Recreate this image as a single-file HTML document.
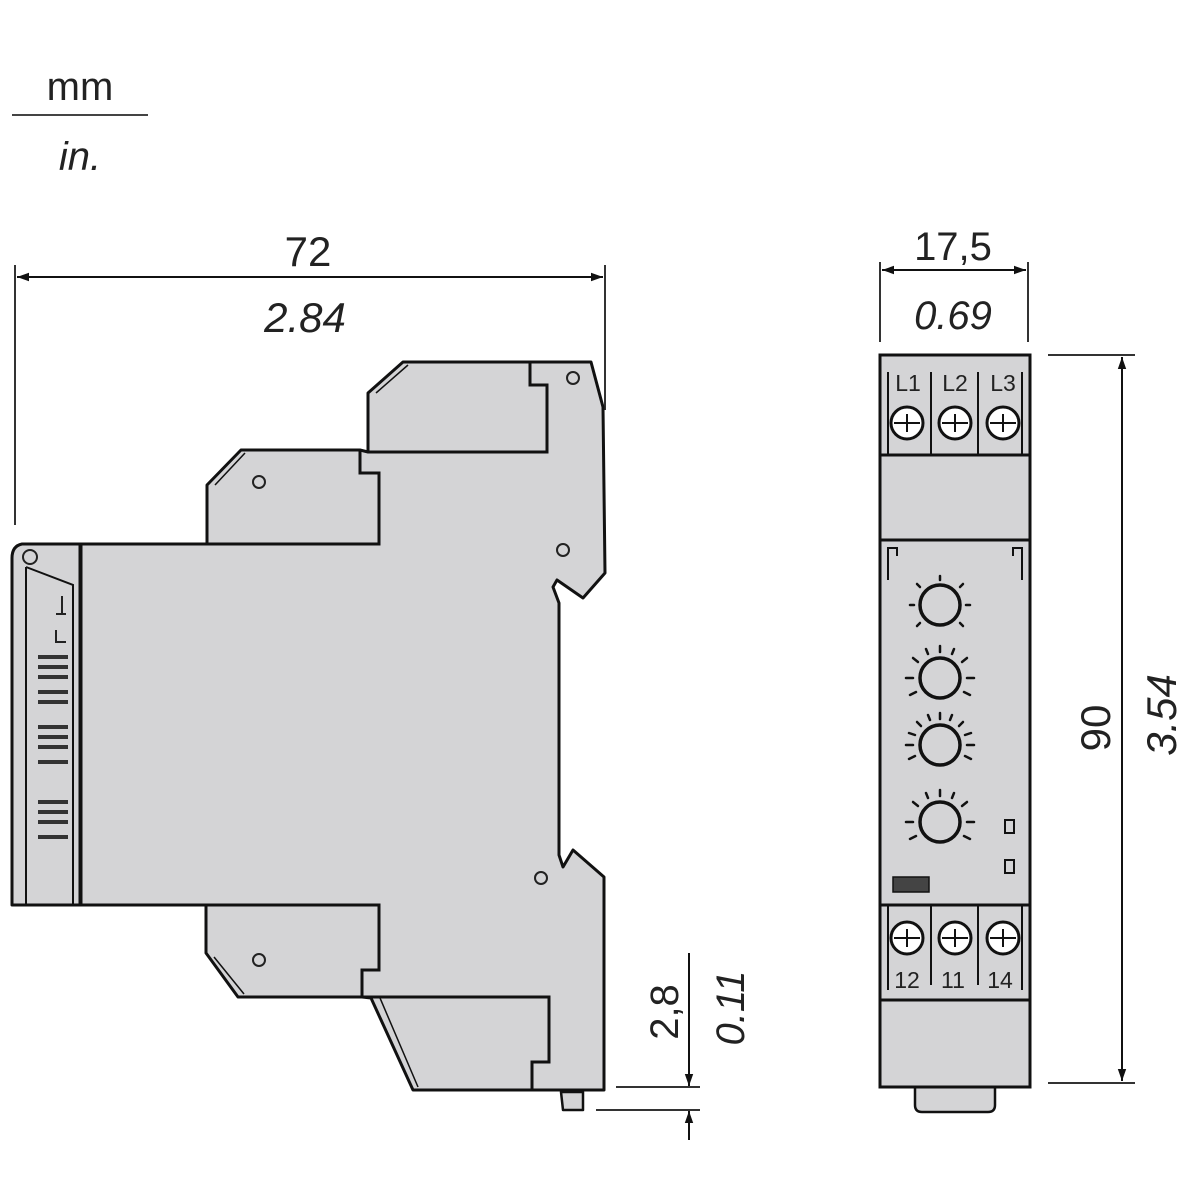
<!DOCTYPE html>
<html><head><meta charset="utf-8"><style>html,body{margin:0;padding:0;background:#fff}svg{display:block}text{font-family:"Liberation Sans",sans-serif;fill:#222}</style></head>
<body>
<svg width="1200" height="1200" viewBox="0 0 1200 1200" xmlns="http://www.w3.org/2000/svg">
<defs>
<marker id="a" viewBox="0 0 10 10" refX="10" refY="5" markerWidth="12" markerHeight="12" markerUnits="userSpaceOnUse" orient="auto-start-reverse"><path d="M0,1.5 L10,5 L0,8.5 z" fill="#111"/></marker>
</defs>
<text x="80" y="100" font-size="40" text-anchor="middle">mm</text>
<line x1="12" y1="115" x2="148" y2="115" stroke="#444" stroke-width="2"/>
<text x="80" y="170" font-size="40" font-style="italic" text-anchor="middle">in.</text>

<line x1="15" y1="265" x2="15" y2="525" stroke="#333" stroke-width="2"/>
<line x1="605" y1="265" x2="605" y2="410" stroke="#333" stroke-width="2"/>
<line x1="17" y1="277" x2="603" y2="277" stroke="#111" stroke-width="2" marker-start="url(#a)" marker-end="url(#a)"/>
<text x="308" y="266" font-size="42" text-anchor="middle">72</text>
<text x="305" y="332" font-size="42" font-style="italic" text-anchor="middle">2.84</text>

<g fill="#d4d4d6" stroke="#111" stroke-width="3" stroke-linejoin="round">
<path d="M80,544 L207,544 L207,485 L241,450 L360,450 L368,452 L368,393 L403,362 L591,362 L603,407 L605,573 L583,598 L557,580 L553,587 L559,603 L559,855 L563,867 L573,850 L604,877 L604,1090 L413,1090 L371,998 L362,997 L238,997 L206,953 L206,905 L80,905 Z"/>
<path d="M80,544 L22,544 Q12,546 12,558 L12,905 L80,905 Z"/>
<path d="M561,1092 L583,1092 L583,1110 L563,1110 Z" stroke-width="2.5"/>
</g>
<g fill="none" stroke="#111" stroke-width="3">
<path d="M360,450 L360,473 L379,473 L379,544 L207,544"/>
<path d="M206,905 L379,905 L379,970 L362,970 L362,997"/>
<path d="M530,362 L530,385 L547,385 L547,452 L368,452"/>
<path d="M362,997 L549,997 L549,1062 L532,1062 L532,1090"/>
<path d="M26,567 L73,585 L73,905" stroke-width="2"/>
<path d="M26,567 L26,905" stroke-width="2"/>
<line x1="81" y1="544" x2="81" y2="905" stroke-width="3"/>
<path d="M376,393 L408,365" stroke-width="1.5"/>
<path d="M215,485 L245,453" stroke-width="1.5"/>
<path d="M214,957 L244,994" stroke-width="1.5"/>
<path d="M380,998 L418,1087" stroke-width="1.5"/>
</g>
<g fill="none" stroke="#222" stroke-width="2">
<circle cx="30" cy="557" r="7"/>
<circle cx="573" cy="378" r="6"/><circle cx="563" cy="550" r="6"/><circle cx="259" cy="482" r="6"/>
<circle cx="541" cy="878" r="6"/><circle cx="259" cy="960" r="6"/>
<path d="M62,596 v18 M56,614 h10 M56,630 v12 h10"/>
</g>
<g fill="#333">
<rect x="38" y="655" width="30" height="4"/><rect x="38" y="665" width="30" height="4"/><rect x="38" y="675" width="30" height="4"/><rect x="38" y="690" width="30" height="4"/><rect x="38" y="700" width="30" height="4"/>
<rect x="38" y="725" width="30" height="4"/><rect x="38" y="735" width="30" height="4"/><rect x="38" y="745" width="30" height="4"/><rect x="38" y="760" width="30" height="4"/>
<rect x="38" y="800" width="30" height="4"/><rect x="38" y="810" width="30" height="4"/><rect x="38" y="820" width="30" height="4"/><rect x="38" y="835" width="30" height="4"/>
</g>

<line x1="616" y1="1087" x2="700" y2="1087" stroke="#333" stroke-width="2"/>
<line x1="596" y1="1110" x2="700" y2="1110" stroke="#333" stroke-width="2"/>
<line x1="689" y1="953" x2="689" y2="1086" stroke="#111" stroke-width="2" marker-end="url(#a)"/>
<line x1="689" y1="1140" x2="689" y2="1111" stroke="#111" stroke-width="2" marker-end="url(#a)"/>
<text transform="translate(678,1012) rotate(-90)" font-size="40" text-anchor="middle">2,8</text>
<text transform="translate(744,1008) rotate(-90)" font-size="40" font-style="italic" text-anchor="middle">0.11</text>

<line x1="880" y1="262" x2="880" y2="342" stroke="#333" stroke-width="2"/>
<line x1="1028" y1="262" x2="1028" y2="342" stroke="#333" stroke-width="2"/>
<line x1="882" y1="270" x2="1026" y2="270" stroke="#111" stroke-width="2" marker-start="url(#a)" marker-end="url(#a)"/>
<text x="953" y="260" font-size="40" text-anchor="middle">17,5</text>
<text x="953" y="329" font-size="40" font-style="italic" text-anchor="middle">0.69</text>
<line x1="1048" y1="355" x2="1135" y2="355" stroke="#333" stroke-width="2"/>
<line x1="1048" y1="1083" x2="1135" y2="1083" stroke="#333" stroke-width="2"/>
<line x1="1122" y1="357" x2="1122" y2="1081" stroke="#111" stroke-width="2" marker-start="url(#a)" marker-end="url(#a)"/>
<text transform="translate(1110,728) rotate(-90)" font-size="42" text-anchor="middle">90</text>
<text transform="translate(1176,715) rotate(-90)" font-size="42" font-style="italic" text-anchor="middle">3.54</text>

<g fill="#d4d4d6" stroke="#111" stroke-width="3">
<path d="M915,1087 L915,1105 Q915,1112 922,1112 L988,1112 Q995,1112 995,1105 L995,1087" stroke-width="2.5"/>
<rect x="880" y="355" width="150" height="732"/>
</g>
<g fill="none" stroke="#111" stroke-width="3">
<line x1="880" y1="455" x2="1030" y2="455"/>
<line x1="880" y1="540" x2="1030" y2="540"/>
<line x1="880" y1="905" x2="1030" y2="905"/>
<line x1="880" y1="1000" x2="1030" y2="1000"/>
<line x1="888" y1="372" x2="888" y2="455" stroke-width="2"/>
<line x1="1022" y1="372" x2="1022" y2="455" stroke-width="2"/>
<line x1="931" y1="372" x2="931" y2="455" stroke-width="2"/>
<line x1="978" y1="372" x2="978" y2="455" stroke-width="2"/>
<line x1="888" y1="905" x2="888" y2="990" stroke-width="2"/>
<line x1="1022" y1="905" x2="1022" y2="990" stroke-width="2"/>
<line x1="931" y1="905" x2="931" y2="985" stroke-width="2"/>
<line x1="978" y1="905" x2="978" y2="985" stroke-width="2"/>
<path d="M888,580 V548 H897 V556" stroke-width="2"/>
<path d="M1022,580 V548 H1013 V556" stroke-width="2"/>
</g>
<g font-size="23" text-anchor="middle">
<text x="908" y="391">L1</text><text x="955" y="391">L2</text><text x="1003" y="391">L3</text>
<text x="907" y="988">12</text><text x="953" y="988">11</text><text x="1000" y="988">14</text>
</g>
<g fill="#fff" stroke="#111" stroke-width="3">
<circle cx="907" cy="423" r="16"/><circle cx="955" cy="423" r="16"/><circle cx="1003" cy="423" r="16"/>
<circle cx="907" cy="938" r="16"/><circle cx="955" cy="938" r="16"/><circle cx="1003" cy="938" r="16"/>
</g>
<g stroke="#111" stroke-width="2">
<path d="M894,423 h26 M907,414 v18 M942,423 h26 M955,414 v18 M990,423 h26 M1003,414 v18"/>
<path d="M894,938 h26 M907,929 v18 M942,938 h26 M955,929 v18 M990,938 h26 M1003,929 v18"/>
</g>
<g fill="none" stroke="#111" stroke-width="3.5">
<circle cx="940" cy="605" r="20"/><circle cx="940" cy="678" r="20"/><circle cx="940" cy="745" r="20"/><circle cx="940" cy="822" r="20"/>
</g>
<g stroke="#111" stroke-width="2.5" stroke-linecap="round">
<path d="M940,580 v-4 M960,587 l3,-3 M920,587 l-3,-3 M966,605 h4 M914,605 h-4 M960,623 l3,3 M920,623 l-3,3"/>
<path d="M940,652 v-6 M928,654 l-2,-5 M952,654 l2,-5 M918,662 l-5,-4 M962,662 l5,-4 M913,678 h-7 M967,678 h7 M916,692 l-6,3 M964,692 l6,3"/>
<path d="M940,719 v-6 M930,720 l-2,-5 M950,720 l2,-5 M921,726 l-4,-4 M959,726 l4,-4 M915,735 l-6,-2 M965,735 l6,-2 M913,745 h-7 M967,745 h7 M915,756 l-6,3 M965,756 l6,3"/>
<path d="M940,796 v-6 M928,798 l-2,-5 M952,798 l2,-5 M918,806 l-5,-4 M962,806 l5,-4 M913,822 h-7 M967,822 h7 M916,836 l-6,3 M964,836 l6,3"/>
</g>
<g fill="#d4d4d6" stroke="#111" stroke-width="2">
<rect x="1005" y="820" width="9" height="13"/><rect x="1005" y="860" width="9" height="13"/>
</g>
<rect x="893" y="877" width="36" height="15" fill="#444" stroke="#111" stroke-width="1.5"/>
</svg>
</body></html>
